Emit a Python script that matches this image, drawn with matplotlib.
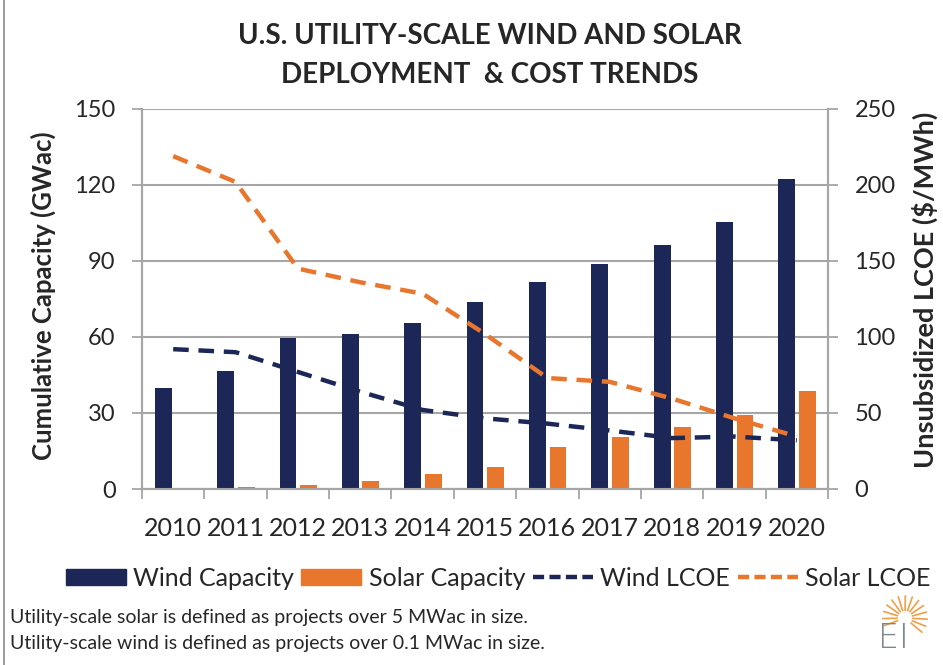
import matplotlib.pyplot as plt
import numpy as np
from matplotlib.patches import Patch
from matplotlib.lines import Line2D

plt.rcParams['font.family'] = ['Lato', 'DejaVu Sans']

# data
years = ['2010', '2011', '2012', '2013', '2014', '2015', '2016', '2017', '2018', '2019', '2020']
wind_cap = [40, 46.5, 59.8, 61.1, 65.7, 73.7, 81.8, 88.7, 96.3, 105.3, 122.5]
solar_cap = [0, 0.7, 1.7, 3.2, 6.0, 8.8, 16.5, 20.6, 24.6, 29.2, 38.6]
wind_lcoe = [92, 90, 77, 64, 52, 46.5, 43, 38.5, 33.5, 34.5, 32]
solar_lcoe = [219, 202, 145, 136, 128.5, 102, 73, 70.5, 59.5, 46.5, 34.5]

navy = '#1c2758'
orange = '#e8762d'
grid_c = '#a6a6a6'
text_c = '#262626'

fig = plt.figure(figsize=(9.43, 6.65), dpi=100)
ax = fig.add_axes([142 / 943, 1 - 489 / 665, (828 - 142) / 943, (489 - 109) / 665])
ax2 = ax.twinx()

x = np.arange(len(years))
w = 0.27
ax.bar(x - 0.16, wind_cap, w, color=navy, zorder=3)
ax.bar(x + 0.17, solar_cap, w, color=orange, zorder=3)

ax2.plot(x, wind_lcoe, color=navy, lw=3.2, ls=(0, (3.5, 2.2)), zorder=4)
ax2.plot(x, solar_lcoe, color=orange, lw=3.2, ls=(0, (3.5, 2.2)), zorder=4)

ax.set_xlim(-0.5, len(years) - 0.5)
ax.set_ylim(0, 150)
ax2.set_ylim(0, 250)
ax.set_yticks(np.arange(0, 151, 30))
ax2.set_yticks(np.arange(0, 251, 50))
ax.grid(axis='y', color=grid_c, lw=1.5, zorder=0)
ax.set_axisbelow(True)

# category boundary ticks, labels centred
ax.set_xticks(np.arange(-0.5, len(years), 1.0))
ax.set_xticklabels([])
ax.set_xticks(x, minor=True)
ax.set_xticklabels(years, minor=True)
ax.tick_params(axis='x', which='major', length=7, width=1.3, color=grid_c, direction='out')
ax.tick_params(axis='x', which='minor', length=0, pad=20, labelsize=18, labelcolor=text_c)
ax.tick_params(axis='y', length=7, width=1.3, color=grid_c, pad=12, labelsize=17, labelcolor=text_c)
ax2.tick_params(axis='y', length=7, width=1.3, color=grid_c, pad=12, labelsize=17, labelcolor=text_c)

for a in (ax, ax2):
    a.spines['top'].set_visible(False)
    for s in ('left', 'right', 'bottom'):
        a.spines[s].set_color(grid_c)
        a.spines[s].set_linewidth(1.5)

fig.text(43 / 943, 1 - 296 / 665, 'Cumulative Capacity (GWac)', rotation=90, ha='center', va='center',
         fontsize=18.5, fontweight='bold', color=text_c)
fig.text(925 / 943, 1 - 290 / 665, 'Unsubsidized LCOE ($/MWh)', rotation=90, ha='center', va='center',
         fontsize=19.5, fontweight='bold', color=text_c)

fig.text(490 / 943, 1 - 36 / 665, 'U.S. UTILITY-SCALE WIND AND SOLAR', ha='center', va='center',
         fontsize=20, fontweight='bold', color=text_c)
fig.text(490 / 943, 1 - 75 / 665, 'DEPLOYMENT  & COST TRENDS', ha='center', va='center',
         fontsize=20, fontweight='bold', color=text_c)

handles = [Patch(color=navy), Patch(color=orange),
           Line2D([], [], color=navy, lw=3.2, ls=(0, (2.5, 1.2))),
           Line2D([], [], color=orange, lw=3.2, ls=(0, (2.5, 1.2)))]
labels = ['Wind Capacity', 'Solar Capacity', 'Wind LCOE', 'Solar LCOE']
fig.legend(handles, labels, loc='center', bbox_to_anchor=(498 / 943, 1 - 578 / 665), ncol=4,
           frameon=False, fontsize=18, handlelength=2.4, handleheight=0.6, handletextpad=0.3,
           columnspacing=0.3, labelcolor=text_c, borderpad=0.1)

fig.text(10 / 943, 1 - 617 / 665, 'Utility-scale solar is defined as projects over 5 MWac in size.',
         ha='left', va='center', fontsize=14, color=text_c)
fig.text(10 / 943, 1 - 643 / 665, 'Utility-scale wind is defined as projects over 0.1 MWac in size.',
         ha='left', va='center', fontsize=14, color=text_c)

# EI logo
fig.text(893 / 943, 1 - 638 / 665, 'EI', ha='center', va='center', fontsize=24, color='#7f8590',
         family='DejaVu Sans', fontweight='light')
cx, cy = 905, 618
for ang in np.linspace(-40, 200, 14):
    r0, r1 = 8, 22
    t = np.deg2rad(ang)
    fig.add_artist(Line2D([(cx + r0 * np.cos(t)) / 943, (cx + r1 * np.cos(t)) / 943],
                          [1 - (cy - r0 * np.sin(t)) / 665, 1 - (cy - r1 * np.sin(t)) / 665],
                          color='#f0a048', lw=1.2))

fig.add_artist(Line2D([4 / 943, 4 / 943], [0, 1], color='#8c8c8c', lw=1.2))

fig.savefig('out.png', dpi=100, facecolor='white')
